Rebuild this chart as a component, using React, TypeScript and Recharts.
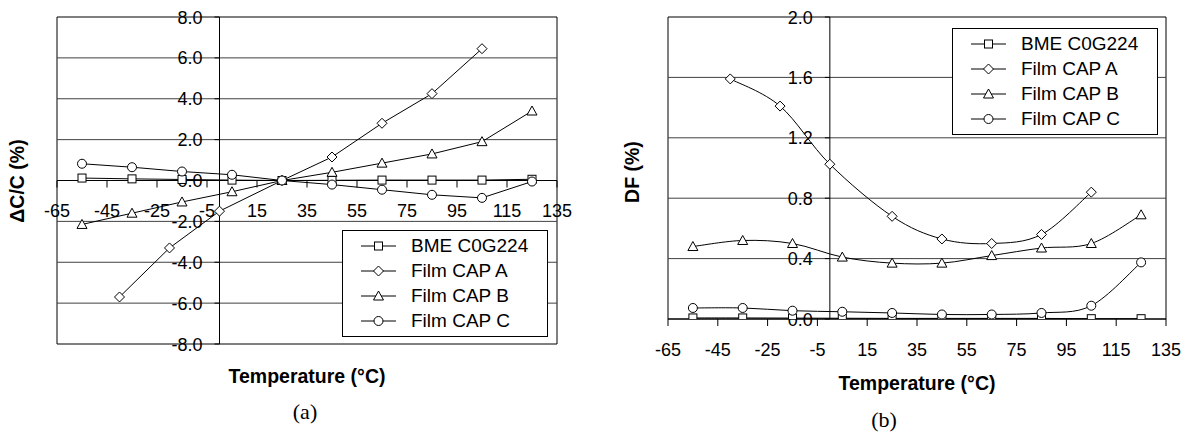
import React from 'react'
import { LineChart, Line, XAxis, YAxis, ReferenceLine, ReferenceArea, ReferenceDot } from 'recharts'

// temperatures (°C)
const tempsFull = [-55, -35, -15, 5, 25, 45, 65, 85, 105, 125]
const tempsCapA = [-40, -20, 0, 25, 45, 65, 85, 105]

// (a) ΔC/C (%)
const dcBme = [0.12, 0.08, 0.05, 0.02, 0, 0.01, 0.02, 0.02, 0.02, 0.06]
const dcCapA = [-5.7, -3.3, -1.5, 0, 1.15, 2.8, 4.25, 6.45]
const dcCapB = [-2.15, -1.6, -1.05, -0.55, 0, 0.4, 0.85, 1.3, 1.9, 3.4]
const dcCapC = [0.82, 0.65, 0.44, 0.28, 0, -0.2, -0.45, -0.7, -0.85, -0.05]

// (b) DF (%)
const dfBme = [0.007, 0.007, 0.006, 0.005, 0.004, 0.004, 0.004, 0.004, 0.002, 0.002]
const dfCapA = [1.59, 1.41, 1.025, 0.68, 0.53, 0.5, 0.56, 0.84]
const dfCapB = [0.48, 0.52, 0.5, 0.41, 0.37, 0.37, 0.42, 0.47, 0.5, 0.69]
const dfCapC = [0.073, 0.073, 0.055, 0.048, 0.04, 0.03, 0.03, 0.04, 0.088, 0.375]

const xTicks = [-65, -45, -25, -5, 15, 35, 55, 75, 95, 115, 135]
const dcTicks = [-8, -6, -4, -2, 0, 2, 4, 6, 8]
const dfTicks = [0, 0.4, 0.8, 1.2, 1.6, 2.0]

const seriesNames = ['BME C0G224', 'Film CAP A', 'Film CAP B', 'Film CAP C']
const shapes = ['square', 'diamond', 'triangle', 'circle']

const FONT = '"Liberation Sans", Arial, sans-serif'
const GRID = '#404040'

const toPoints = (temps: number[], vals: number[]) => temps.map((t, i) => ({ t, v: vals[i] }))

function Marker({ shape, cx, cy }: { shape: string; cx: number; cy: number }) {
  const s = { fill: '#fff', stroke: '#000', strokeWidth: 1 }
  if (shape === 'square') return <rect x={cx - 4} y={cy - 4} width={8} height={8} {...s} />
  if (shape === 'diamond') return <polygon points={`${cx},${cy - 5} ${cx + 5},${cy} ${cx},${cy + 5} ${cx - 5},${cy}`} {...s} />
  if (shape === 'triangle') return <polygon points={`${cx},${cy - 5} ${cx + 5},${cy + 4} ${cx - 5},${cy + 4}`} {...s} />
  return <circle cx={cx} cy={cy} r={4.5} {...s} />
}

// Excel-like smoothed line (Catmull-Rom as bezier)
function excelSmooth(context: any) {
  let pts: number[][] = []
  return {
    areaStart() {},
    areaEnd() {},
    lineStart() { pts = [] },
    point(x: number, y: number) { pts.push([+x, +y]) },
    lineEnd() {
      if (!pts.length) return
      context.moveTo(pts[0][0], pts[0][1])
      for (let i = 0; i < pts.length - 1; i++) {
        const p0 = pts[i - 1] || pts[i]
        const p1 = pts[i]
        const p2 = pts[i + 1]
        const p3 = pts[i + 2] || p2
        context.bezierCurveTo(
          p1[0] + (p2[0] - p0[0]) / 6, p1[1] + (p2[1] - p0[1]) / 6,
          p2[0] - (p3[0] - p1[0]) / 6, p2[1] - (p3[1] - p1[1]) / 6,
          p2[0], p2[1],
        )
      }
    },
  }
}

function LegendBox({ left, top }: { left: number; top: number }) {
  return (
    <div style={{
      position: 'absolute', left, top, width: 204, height: 103, border: '1px solid #000',
      background: '#fff', paddingTop: 2, boxSizing: 'content-box', fontFamily: FONT, fontSize: 19,
    }}>
      {seriesNames.map((n, i) => (
        <div key={n} style={{ height: 25, display: 'flex', alignItems: 'center' }}>
          <svg width={68} height={14} style={{ display: 'block' }}>
            <line x1={18} x2={53} y1={7} y2={7} stroke="#000" />
            <Marker shape={shapes[i]} cx={35.5} cy={7} />
          </svg>
          <span style={{ color: '#000' }}>{n}</span>
        </div>
      ))}
    </div>
  )
}

function YTick(label: string) {
  return (p: any) => (
    <g>
      <line x1={p.cx - 5} x2={p.cx} y1={p.cy} y2={p.cy} stroke="#000" />
      <text x={p.cx - 17} y={p.cy + 6.5} textAnchor="end" fontFamily={FONT} fontSize={18} fill="#000">{label}</text>
    </g>
  )
}

function XTick(label: string) {
  return (p: any) => (
    <g>
      <line x1={p.cx} x2={p.cx} y1={p.cy} y2={p.cy + 7} stroke="#000" />
      <text x={p.cx} y={p.cy + 36.5} textAnchor="middle" fontFamily={FONT} fontSize={18} fill="#000">{label}</text>
    </g>
  )
}

function Panel({ width, margin, yDomain, yTicks, yFmt, series, smooth }: {
  width: number
  margin: { top: number; right: number; bottom: number; left: number }
  yDomain: [number, number]
  yTicks: number[]
  yFmt: (v: number) => string
  series: { t: number; v: number }[][]
  smooth: boolean
}) {
  return (
    <LineChart width={width} height={437} margin={margin}>
      <XAxis type="number" dataKey="t" domain={[-65, 135]} ticks={xTicks} hide allowDataOverflow />
      <YAxis type="number" dataKey="v" domain={yDomain} ticks={yTicks} hide allowDataOverflow />
      {yTicks.slice(1, -1).map((v) => (
        <ReferenceLine key={`g${v}`} y={v} stroke={GRID} strokeWidth={1} ifOverflow="visible" />
      ))}
      <ReferenceArea x1={-65} x2={135} y1={yDomain[0]} y2={yDomain[1]} fill="none" fillOpacity={0} stroke="#000" strokeWidth={1} ifOverflow="visible" />
      <ReferenceLine x={0} stroke="#000" strokeWidth={1} ifOverflow="visible" />
      <ReferenceLine y={0} stroke="#000" strokeWidth={1} ifOverflow="visible" />
      {yTicks.map((v) => (
        <ReferenceDot key={`y${v}`} x={0} y={v} r={0} ifOverflow="visible" shape={YTick(yFmt(v))} />
      ))}
      {xTicks.map((t) => (
        <ReferenceDot key={`x${t}`} x={t} y={0} r={0} ifOverflow="visible" shape={XTick(String(t))} />
      ))}
      {series.map((d, i) => (
        <Line
          key={seriesNames[i]}
          data={d}
          dataKey="v"
          name={seriesNames[i]}
          type={smooth ? (excelSmooth as any) : 'linear'}
          stroke="#000"
          strokeWidth={1}
          isAnimationActive={false}
          dot={(p: any) => <Marker key={`${i}-${p.index}`} shape={shapes[i]} cx={p.cx} cy={p.cy} />}
          activeDot={false}
        />
      ))}
    </LineChart>
  )
}

const titleStyle: React.CSSProperties = {
  position: 'absolute', fontFamily: FONT, fontWeight: 'bold', fontSize: 19.5, whiteSpace: 'nowrap',
  transform: 'translate(-50%, -50%)', lineHeight: 1,
}
const captionStyle: React.CSSProperties = {
  position: 'absolute', fontFamily: '"Liberation Serif", "Times New Roman", serif', fontSize: 22,
  whiteSpace: 'nowrap', transform: 'translate(-50%, -50%)', lineHeight: 1,
}

export default function App() {
  const seriesA = [
    toPoints(tempsFull, dcBme), toPoints(tempsCapA, dcCapA),
    toPoints(tempsFull, dcCapB), toPoints(tempsFull, dcCapC),
  ]
  const seriesB = [
    toPoints(tempsFull, dfBme), toPoints(tempsCapA, dfCapA),
    toPoints(tempsFull, dfCapB), toPoints(tempsFull, dfCapC),
  ]
  return (
    <div style={{ position: 'absolute', left: 0, top: 0, width: 1186, height: 437, background: '#fff', overflow: 'hidden' }}>
      <div style={{ position: 'absolute', left: 0, top: 0 }}>
        <Panel width={600} margin={{ top: 17, right: 43, bottom: 93, left: 57 }} yDomain={[-8, 8]}
          yTicks={dcTicks} yFmt={(v) => v.toFixed(1)} series={seriesA} smooth={false} />
      </div>
      <div style={{ position: 'absolute', left: 600, top: 0 }}>
        <Panel width={586} margin={{ top: 17, right: 20, bottom: 118, left: 68 }} yDomain={[0, 2]}
          yTicks={dfTicks} yFmt={(v) => v.toFixed(1)} series={seriesB} smooth />
      </div>
      <LegendBox left={342} top={230} />
      <LegendBox left={952} top={28} />
      <div style={{ ...titleStyle, left: 18, top: 181, transform: 'translate(-50%, -50%) rotate(-90deg)' }}>ΔC/C (%)</div>
      <div style={{ ...titleStyle, left: 633, top: 172, transform: 'translate(-50%, -50%) rotate(-90deg)' }}>DF (%)</div>
      <div style={{ ...titleStyle, left: 307, top: 377 }}>Temperature (°C)</div>
      <div style={{ ...titleStyle, left: 917, top: 384 }}>Temperature (°C)</div>
      <div style={{ ...captionStyle, left: 305, top: 412 }}>(a)</div>
      <div style={{ ...captionStyle, left: 884, top: 420 }}>(b)</div>
    </div>
  )
}
